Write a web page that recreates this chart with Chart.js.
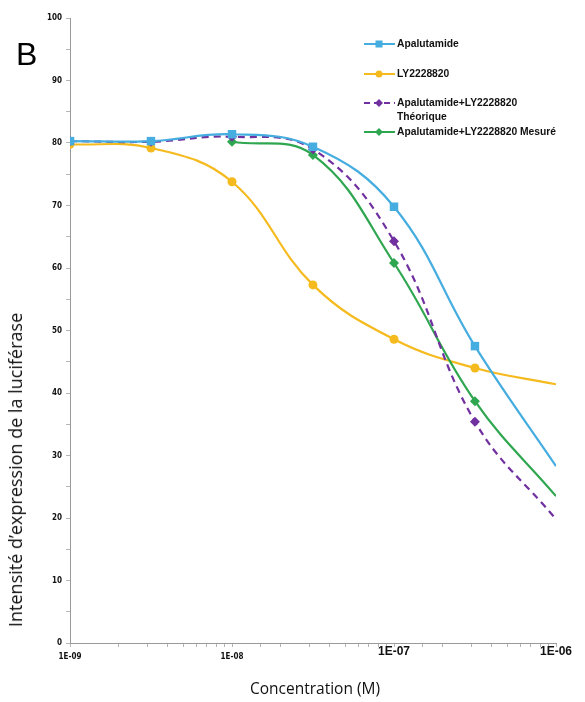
<!DOCTYPE html>
<html>
<head>
<meta charset="utf-8">
<script src="https://cdn.jsdelivr.net/npm/chart.js@4.4.1/dist/chart.umd.min.js"></script>
<style>
  html, body { margin: 0; padding: 0; background: #fff; }
  #wrap { position: relative; width: 585px; height: 702px; overflow: hidden; }
  canvas { position: absolute; left: 0; top: 0; }
  .panel { position: absolute; left: 16px; top: 36px; font: 32px "Liberation Sans", Arial, sans-serif; color: #000; line-height: 36px; }
  .ytitle { position: absolute; left: 15px; top: 470px; transform: translate(-50%, -50%) rotate(-90deg);
            white-space: nowrap; font: 18px "Open Sans", "Noto Sans", sans-serif; color: #111; }
  .xtitle { position: absolute; left: 315px; top: 688px; transform: translate(-50%, -50%);
            white-space: nowrap; font: 15.5px "Open Sans", "Noto Sans", sans-serif; color: #111; }
  .legend { position: absolute; left: 364px; top: 28px; font: bold 10.3px "Liberation Sans", Arial, sans-serif; color: #111; }
  .item { position: absolute; left: 0; white-space: nowrap; }
  .item svg { position: absolute; left: 0; }
  .item span { position: absolute; left: 33px; line-height: 14px; }
</style>
</head>
<body>
<div id="wrap">
  <canvas id="c" width="585" height="702"></canvas>
  <div class="panel">B</div>
  <div class="ytitle">Intensité d’expression de la luciférase</div>
  <div class="xtitle">Concentration (M)</div>
  <div class="legend" id="legend"></div>
</div>
<script>
// ---- data ----
const concentrations = [1e-9, 3.16e-9, 1e-8, 3.16e-8, 1e-7, 3.16e-7, 1e-6];
const apalutamide   = [80.3, 80.3, 81.4, 79.4, 69.8, 47.5, 28.3];
const ly2228820     = [79.8, 79.2, 73.8, 57.3, 48.6, 44.0, 41.4];
const theorique     = [80.3, 80.2, 81.0, 79.0, 64.3, 35.4, 19.8];
const mesure        = [null, null, 80.2, 78.1, 60.8, 38.7, 23.5];
const markerShown   = [1, 1, 1, 1, 1, 1, 0];
const seriesNames   = ['Apalutamide', 'LY2228820', 'Apalutamide+LY2228820\nThéorique', 'Apalutamide+LY2228820 Mesuré'];
const xTickLabels   = ['1E-09', '1E-08', '1E-07', '1E-06'];
const yTickValues   = [0, 10, 20, 30, 40, 50, 60, 70, 80, 90, 100];

const colors = ['#45ADDF', '#F5BA1E', '#7030A0', '#2FA650'];
const styles = ['rect', 'circle', 'rectRot', 'rectRot'];
const radii  = [6, 4.5, 5, 5];
const dashes = [[], [], [7, 5], []];
const seriesData = [apalutamide, ly2228820, theorique, mesure];

function pts(arr) { return concentrations.map((x, i) => ({ x: x, y: arr[i] })); }

const datasets = seriesData.map((arr, k) => ({
  label: seriesNames[k].replace('\n', ' '),
  data: pts(arr),
  borderColor: colors[k],
  backgroundColor: colors[k],
  borderWidth: 2.2,
  borderDash: dashes[k],
  pointStyle: styles[k],
  pointRadius: markerShown.map(m => m ? radii[k] : 0),
  pointBorderWidth: 0,
  pointHoverRadius: 0,
  tension: 0.4,
  spanGaps: false,
  fill: false
}));
datasets[0].order = 0; datasets[1].order = 3; datasets[2].order = 1; datasets[3].order = 2;

const isDecade = v => Math.abs(Math.log10(v) - Math.round(Math.log10(v))) < 1e-6;

new Chart(document.getElementById('c'), {
  type: 'line',
  data: { datasets: datasets },
  options: {
    responsive: false,
    animation: false,
    devicePixelRatio: 1,
    layout: { padding: { left: 0, top: 18, right: 29, bottom: 0 } },
    plugins: { legend: { display: false }, tooltip: { enabled: false } },
    scales: {
      x: {
        type: 'logarithmic',
        min: 1e-9, max: 1e-6,
        afterFit: s => { s.height = 59; },
        border: { color: '#9a9a9a', width: 1 },
        grid: { drawOnChartArea: false, drawTicks: true, tickLength: 4, color: '#b5b5b5' },
        ticks: {
          autoSkip: false, maxRotation: 0, padding: 0,
          color: '#111',
          font: ctx => {
            const v = ctx.tick ? ctx.tick.value : 0;
            return v >= 0.99e-7
              ? { family: '"Liberation Sans", Arial, sans-serif', size: 12, weight: 'bold', lineHeight: 0.85 }
              : { family: '"Liberation Sans Narrow", "DejaVu Sans Condensed", Arial, sans-serif', size: 8, weight: 'bold', lineHeight: 2.5 };
          },
          callback: function (v) {
            if (!isDecade(v)) return '';
            const idx = Math.round(Math.log10(v)) + 9;
            return xTickLabels[idx] || '';
          }
        }
      },
      y: {
        min: 0, max: 100,
        afterFit: s => { s.width = 70; },
        border: { color: '#9a9a9a', width: 1 },
        grid: { drawOnChartArea: false, drawTicks: true, tickLength: 4, color: '#b5b5b5' },
        ticks: {
          stepSize: 5, autoSkip: false, padding: 4,
          color: '#111',
          font: { family: '"Liberation Sans Narrow", "DejaVu Sans Condensed", Arial, sans-serif', size: 8, weight: 'bold' },
          callback: v => yTickValues.includes(v) ? String(v) : ''
        }
      }
    }
  }
});

// ---- HTML legend ----
const legendRows = [9, 39, 68, 97];
const leg = document.getElementById('legend');
seriesNames.forEach((name, k) => {
  const it = document.createElement('div');
  it.className = 'item';
  it.style.top = legendRows[k] + 'px';
  let marker;
  if (styles[k] === 'rect') marker = '<rect x="11.5" y="3.5" width="7" height="7" fill="' + colors[k] + '"/>';
  else if (styles[k] === 'circle') marker = '<circle cx="15" cy="7" r="3.5" fill="' + colors[k] + '"/>';
  else marker = '<polygon points="15,3 19,7 15,11 11,7" fill="' + colors[k] + '"/>';
  const dash = dashes[k].length ? ' stroke-dasharray="6,4"' : '';
  it.innerHTML = '<svg width="32" height="14"><line x1="0" y1="7" x2="31" y2="7" stroke="' + colors[k] +
    '" stroke-width="2"' + dash + '/>' + marker + '</svg><span>' + name.replace('\n', '<br>') + '</span>';
  leg.appendChild(it);
});
</script>
</body>
</html>
